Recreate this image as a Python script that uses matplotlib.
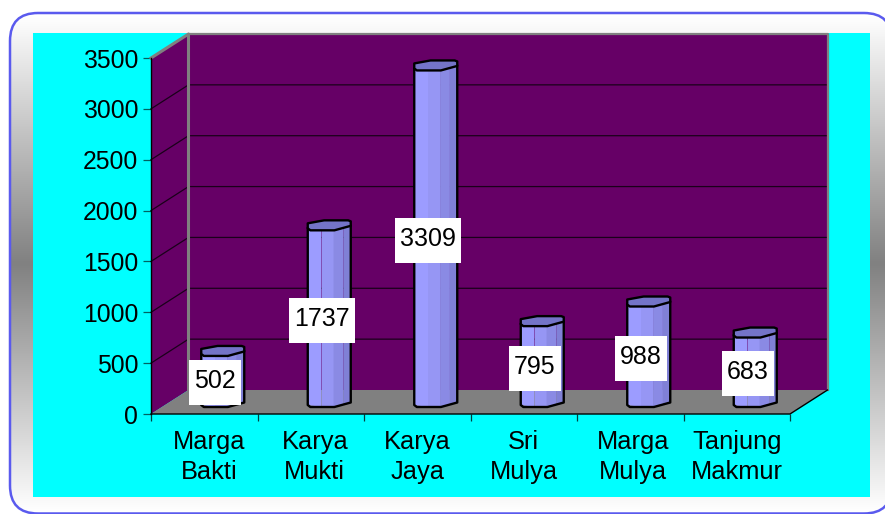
import matplotlib
matplotlib.use('Agg')
import matplotlib.pyplot as plt
import numpy as np
from matplotlib.patches import FancyBboxPatch, Rectangle
from matplotlib.transforms import ScaledTranslation

plt.rcParams['font.family'] = ['Liberation Sans', 'DejaVu Sans']

categories = ['Marga\nBakti', 'Karya\nMukti', 'Karya\nJaya', 'Sri\nMulya', 'Marga\nMulya', 'Tanjung\nMakmur']
values = [502, 1737, 3309, 795, 988, 683]
y_ticks = [0, 500, 1000, 1500, 2000, 2500, 3000, 3500]

W, H = 885, 514
fig = plt.figure(figsize=(W / 100, H / 100), dpi=100, facecolor='white')

# background layer in pixels
bg = fig.add_axes([0, 0, 1, 1])
bg.set_xlim(0, W)
bg.set_ylim(H, 0)
bg.axis('off')
ys = np.linspace(0, 1, 256)
grad = np.interp(ys, [0, 0.5, 1], [255, 128, 255])[:, None]
im = bg.imshow(grad, cmap='gray', vmin=0, vmax=255, extent=[10, 892, 514, 13], aspect='auto', zorder=1)
r = 28
# tiny face alpha: agg clips unfilled curved paths at the canvas edge and bends them
frame = FancyBboxPatch((10 + r, 13 + r), 882 - 2 * r, 500.5 - 2 * r, boxstyle=f'round,pad={r},rounding_size={r}',
                       fc=(1, 1, 1, 0.002), ec='#5a5aee', lw=1.8, zorder=3)
bg.add_patch(frame)
im.set_clip_path(frame)
bg.add_patch(Rectangle((33, 33), 837, 464, fc='#00ffff', ec='none', zorder=2))
bg.set_xlim(0, W)
bg.set_ylim(H, 0)

# front plane of the 3d box
ax = fig.add_axes([151 / W, (H - 414) / H, 639 / W, 356 / H])
ax.patch.set_visible(False)
ax.set_xlim(0, 6)
ax.set_ylim(0, 3500)
for s in ax.spines.values():
    s.set_visible(False)

px_x = 6 / 639
px_y = 3500 / 356
dx = 37.5 * px_x
dy = 24 * px_y
top = y_ticks[-1]

# walls and floor
ax.fill([0, dx, dx, 0], [0, dy, top + dy, top], color='#660066', clip_on=False, zorder=1, lw=0)
ax.fill([dx, 6 + dx, 6 + dx, dx], [dy, dy, top + dy, top + dy], color='#660066', clip_on=False, zorder=1, lw=0)
ax.fill([0, 6, 6 + dx, dx], [0, 0, dy, dy], color='#808080', clip_on=False, zorder=2, lw=0)

for v in y_ticks[1:-1]:
    ax.plot([0, dx, 6 + dx], [v, v + dy, v + dy], color='#1a001a', lw=0.9, clip_on=False, zorder=2)

ax.plot([0, dx, dx], [top, top + dy, dy], color='#808080', lw=2.2, clip_on=False, zorder=3)
ax.plot([dx, 6 + dx, 6 + dx], [top + dy, top + dy, dy], color='#808080', lw=1.6, clip_on=False, zorder=3)
ax.plot([0, 0], [0, top], color='black', lw=1.0, clip_on=False, zorder=3)
ax.plot([0, 6, 6 + dx], [0, 0, dy], color='black', lw=1.0, clip_on=False, zorder=3)

# octagonal columns
bar_w = 43 * px_x
base = 7 * px_y
strips = [0, 0.32, 0.6, 0.83, 1]
strip_cols = ['#9c9cff', '#9696f4', '#8a8ae4', '#8080d6']
prof_u = [0, 0.06, 0.62, 1]
prof_v = [2, 0, 0, 4.5]
cap_u = [0, 0, 0.38, 0.94, 1, 1, 0.62, 0.06]
cap_v = [2, 7, 10, 10, 9, 4.5, 0, 0]

for i, val in enumerate(values):
    left = i + 0.5 + 18.5 * px_x - bar_w / 2
    bottom = base
    y_top = base + val
    for j in range(4):
        uu = np.array([strips[j], strips[j + 1]])
        vv = np.interp(uu, prof_u, prof_v) * px_y
        ax.fill([left + uu[0] * bar_w, left + uu[1] * bar_w, left + uu[1] * bar_w, left + uu[0] * bar_w],
                [bottom + vv[0], bottom + vv[1], y_top + vv[1], y_top + vv[0]],
                color=strip_cols[j], lw=0, clip_on=False, zorder=4)
    # outline of the body
    ax.plot(left + np.array([0, 0, 0.06, 0.62, 1, 1]) * bar_w,
            np.array([y_top + 2 * px_y, bottom + 2 * px_y, bottom, bottom, bottom + 4.5 * px_y, y_top + 4.5 * px_y]),
            color='black', lw=1.7, clip_on=False, zorder=5)
    # cap
    ax.fill(left + np.array(cap_u) * bar_w, y_top + np.array(cap_v) * px_y, fc='#7474c8', ec='black',
            lw=1.7, joinstyle='round', clip_on=False, zorder=5)

    # value label box
    txt = str(val)
    box_w = (52 if len(txt) == 3 else 66) * px_x
    box_h = 45 * px_y
    cx = i + 0.5 + 11 * px_x
    cy = val / 2 + 5.5 * px_y
    ax.add_patch(Rectangle((cx - box_w / 2, cy - box_h / 2), box_w, box_h, fc='white', ec='none',
                           clip_on=False, zorder=6))
    ax.text(cx, cy + 1.5 * px_y, txt, ha='center', va='center', fontsize=18, color='black', zorder=7)

# ticks and labels
ax.set_yticks(y_ticks)
ax.set_yticklabels([str(v) for v in y_ticks], fontsize=17.8)
ax.tick_params(axis='y', length=5.8, width=0.9, color='#006060', pad=3.5)
ax.set_xticks(range(7))
ax.set_xticklabels([])
ax.tick_params(axis='x', which='major', length=5, width=0.9, color='#004040')
ax.set_xticks(np.arange(6) + 0.5, minor=True)
ax.set_xticklabels(categories, minor=True, fontsize=18.3, linespacing=1.33)
ax.tick_params(axis='x', which='minor', length=0, pad=11.5)

# category labels sit a little off centre in the original
label_shift = [5, 4, 0.5, 0, 3, 0]
for lab, sh in zip(ax.get_xticklabels(minor=True), label_shift):
    lab.set_transform(lab.get_transform() + ScaledTranslation(sh / 100, 0, fig.dpi_scale_trans))

fig.savefig('out.png', dpi=100)
